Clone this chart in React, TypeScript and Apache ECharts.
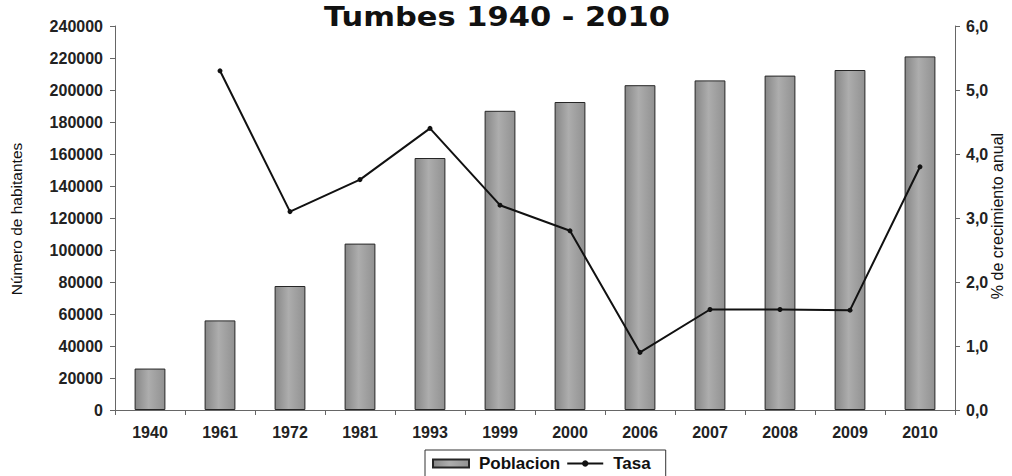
import React, { useEffect, useRef } from "react";
import * as echarts from "echarts";

// Census / projection years
const years = ["1940", "1961", "1972", "1981", "1993", "1999", "2000", "2006", "2007", "2008", "2009", "2010"];
// Population (number of inhabitants)
const poblacion = [25900, 56000, 77500, 104000, 157500, 187000, 192500, 203000, 206000, 209000, 212500, 221000];
// Annual growth rate (%)
const tasa: (number | null)[] = [null, 5.3, 3.1, 3.6, 4.4, 3.2, 2.8, 0.9, 1.57, 1.57, 1.56, 3.8];

const leftTicks = { min: 0, max: 240000, interval: 20000 };
const rightTicks = { min: 0, max: 6, interval: 1 };

const LABEL_FONT = "'Liberation Sans', Arial, sans-serif";

export default function App() {
  const ref = useRef<HTMLDivElement>(null);

  useEffect(() => {
    if (!ref.current) return;
    const chart = echarts.init(ref.current, undefined, { renderer: "svg" });

    const barFill = new echarts.graphic.LinearGradient(0, 0, 1, 0, [
      { offset: 0, color: "#878787" },
      { offset: 0.45, color: "#adadad" },
      { offset: 1, color: "#919191" },
    ]);

    const axisLabel = {
      color: "#222",
      fontFamily: LABEL_FONT,
      fontWeight: "bold" as const,
      fontSize: 16,
    };

    chart.setOption({
      animation: false,
      backgroundColor: "#ffffff",
      grid: { left: 115, right: 57, top: 26, bottom: 66, containLabel: false },
      graphic: [
        {
          type: "text",
          x: 497,
          y: 3,
          scaleX: 1.13,
          style: {
            text: "Tumbes 1940 - 2010",
            fontFamily: "'DejaVu Sans', Verdana, sans-serif",
            fontWeight: "bold",
            fontSize: 27,
            lineHeight: 27,
            fill: "#111",
            textAlign: "center",
            textVerticalAlign: "top",
          },
        },
        {
          type: "text",
          x: 16,
          y: 219,
          rotation: Math.PI / 2,
          style: {
            text: "Número de habitantes",
            fontFamily: LABEL_FONT,
            fontSize: 15.5,
            fill: "#111",
            textAlign: "center",
            textVerticalAlign: "middle",
          },
        },
        {
          type: "text",
          x: 997,
          y: 216,
          rotation: Math.PI / 2,
          style: {
            text: "% de crecimiento anual",
            fontFamily: LABEL_FONT,
            fontSize: 16,
            fill: "#111",
            textAlign: "center",
            textVerticalAlign: "middle",
          },
        },
      ],
      legend: {
        left: 425,
        top: 450,
        orient: "horizontal",
        padding: [5, 15, 5, 7],
        itemGap: 6,
        itemWidth: 36,
        itemHeight: 8,
        borderColor: "#333",
        borderWidth: 1,
        borderRadius: 0,
        textStyle: {
          color: "#111",
          fontFamily: LABEL_FONT,
          fontWeight: "bold",
          fontSize: 17,
          padding: [0, 0, 0, 5],
        },
        data: [
          { name: "Poblacion", icon: "rect" },
          { name: "Tasa" },
        ],
      },
      xAxis: {
        type: "category",
        data: years,
        boundaryGap: true,
        axisLine: { lineStyle: { color: "#666", width: 1 } },
        axisTick: { show: true, length: 5, alignWithLabel: false, lineStyle: { color: "#666" } },
        axisLabel: { ...axisLabel, margin: 14 },
        splitLine: { show: false },
      },
      yAxis: [
        {
          type: "value",
          position: "left",
          ...leftTicks,
          axisLine: { show: true, lineStyle: { color: "#666" } },
          axisTick: { show: true, length: 5, lineStyle: { color: "#666" } },
          axisLabel: { ...axisLabel, margin: 12, formatter: (v: number) => String(v) },
          splitLine: { show: false },
        },
        {
          type: "value",
          position: "right",
          ...rightTicks,
          axisLine: { show: true, lineStyle: { color: "#666" } },
          axisTick: { show: true, length: 5, lineStyle: { color: "#666" } },
          axisLabel: {
            ...axisLabel,
            margin: 11,
            formatter: (v: number) => v.toFixed(1).replace(".", ","),
          },
          splitLine: { show: false },
        },
      ],
      series: [
        {
          name: "Poblacion",
          type: "bar",
          yAxisIndex: 0,
          data: poblacion,
          barWidth: "44%",
          itemStyle: { color: barFill, borderColor: "#262626", borderWidth: 1 },
        },
        {
          name: "Tasa",
          type: "line",
          yAxisIndex: 1,
          data: tasa,
          connectNulls: false,
          symbol: "circle",
          symbolSize: 5,
          lineStyle: { color: "#111", width: 2 },
          itemStyle: { color: "#111" },
        },
      ],
    });

    return () => chart.dispose();
  }, []);

  return (
    <div
      ref={ref}
      style={{ position: "fixed", left: 0, top: 0, width: 1012, height: 476, background: "#fff" }}
    />
  );
}
